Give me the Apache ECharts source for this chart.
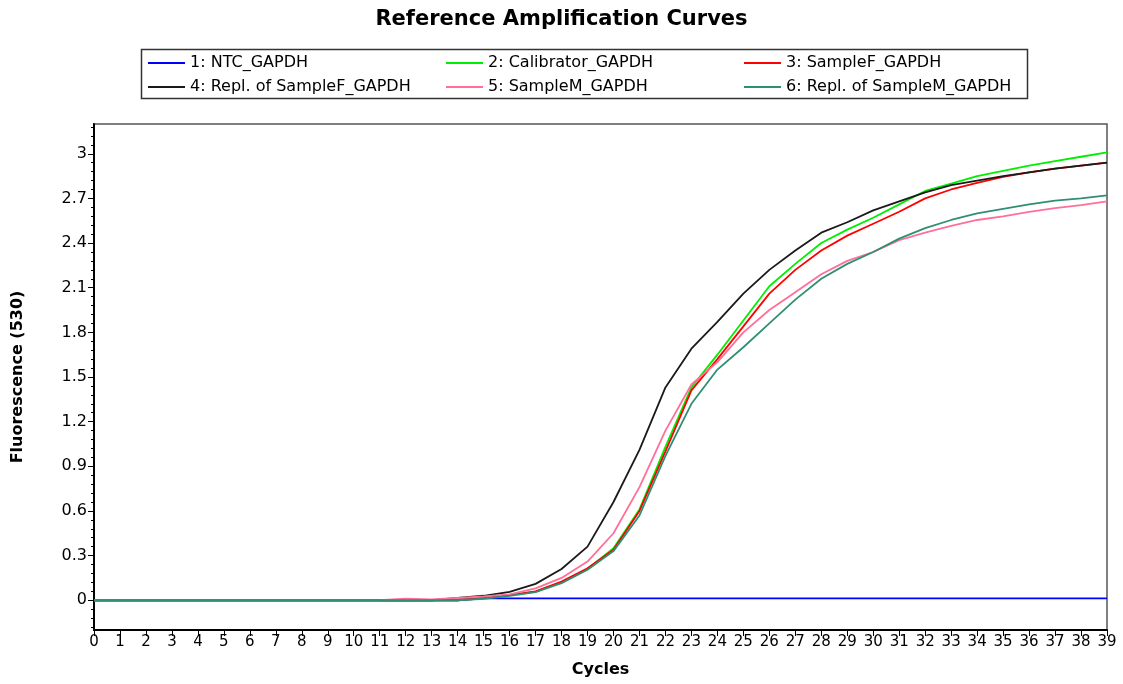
<!DOCTYPE html>
<html>
<head>
<meta charset="utf-8">
<script src="https://cdn.jsdelivr.net/npm/echarts@6/dist/echarts.min.js"></script>
<style>
html,body{margin:0;padding:0;background:#fff;}
#c{width:1123px;height:684px;}
</style>
</head>
<body>
<div id="c"></div>
<script>
// ---- data ----
const cycles = [0,1,2,3,4,5,6,7,8,9,10,11,12,13,14,15,16,17,18,19,20,21,22,23,24,25,26,27,28,29,30,31,32,33,34,35,36,37,38,39];
const seriesNames = ['1: NTC_GAPDH','2: Calibrator_GAPDH','3: SampleF_GAPDH','4: Repl. of SampleF_GAPDH','5: SampleM_GAPDH','6: Repl. of SampleM_GAPDH'];
const ntc        = [0,0,0,0,0,0,0,0,0,0,0,0,0,0,0,0.012,0.012,0.012,0.012,0.012,0.012,0.012,0.012,0.012,0.012,0.012,0.012,0.012,0.012,0.012,0.012,0.012,0.012,0.012,0.012,0.012,0.012,0.012,0.012,0.012];
const calibrator = [0,0,0,0,0,0,0,0,0,0,0,0,0,0,0,0.015,0.034,0.058,0.12,0.21,0.35,0.61,1.03,1.43,1.65,1.88,2.11,2.26,2.40,2.49,2.57,2.66,2.75,2.80,2.85,2.885,2.92,2.95,2.98,3.01];
const sampleF    = [0,0,0,0,0,0,0,0,0,0,0,0,0,0,0,0.02,0.035,0.06,0.125,0.215,0.34,0.60,1.00,1.41,1.62,1.84,2.06,2.22,2.35,2.45,2.53,2.61,2.70,2.76,2.805,2.845,2.875,2.90,2.92,2.94];
const replF      = [0,0,0,0,0,0,0,0,0,0,0,0,0,0,0.015,0.03,0.056,0.11,0.21,0.36,0.66,1.01,1.43,1.69,1.87,2.06,2.22,2.35,2.47,2.54,2.62,2.68,2.74,2.79,2.82,2.85,2.875,2.90,2.92,2.94];
const sampleM    = [0,0,0,0,0,0,0,0,0,0,0,0,0.01,0.005,0.015,0.025,0.04,0.08,0.15,0.26,0.45,0.76,1.14,1.45,1.60,1.80,1.95,2.07,2.19,2.28,2.34,2.42,2.47,2.515,2.555,2.58,2.61,2.635,2.655,2.68];
const replM      = [0,0,0,0,0,0,0,0,0,0,0,0,0,0,0,0.01,0.03,0.055,0.115,0.205,0.33,0.57,0.97,1.32,1.55,1.70,1.86,2.02,2.16,2.26,2.34,2.43,2.50,2.555,2.60,2.63,2.66,2.685,2.70,2.72];
const yTickValues = [0,0.3,0.6,0.9,1.2,1.5,1.8,2.1,2.4,2.7,3];
const yTickLabels = ['0','0.3','0.6','0.9','1.2','1.5','1.8','2.1','2.4','2.7','3'];

// ---- styling ----
const colors = ['#0000ff','#00ee00','#ff0000','#1a1a1a','#ff6f9a','#2f8f74'];
const allData = [ntc, calibrator, sampleF, replF, sampleM, replM];
const FONT = 'DejaVu Sans, Verdana, sans-serif';

const minorTicks = [];
for (let i = -3; i <= 53; i++) { minorTicks.push(Math.round(i * 6) / 100); }

const series = seriesNames.map((name, i) => ({
  name: name,
  type: 'line',
  xAxisIndex: 0,
  yAxisIndex: 0,
  data: cycles.map((c, k) => [c, allData[i][k]]),
  showSymbol: false,
  symbol: 'none',
  smooth: false,
  lineStyle: { color: colors[i], width: 1.8 },
  itemStyle: { color: colors[i] },
  animation: false,
  z: 2 + i
}));

const legendLeft = [148, 446, 744];
const legendTop = [55, 79];
const legends = seriesNames.map((name, i) => ({
  data: [name],
  left: legendLeft[i % 3],
  top: legendTop[Math.floor(i / 3)],
  icon: 'rect',
  itemWidth: 37,
  itemHeight: 2,
  itemGap: 0,
  padding: 0,
  selectedMode: false,
  textStyle: { fontFamily: FONT, fontSize: 16, color: '#000', padding: [0, 0, 0, 0] }
}));

const chart = echarts.init(document.getElementById('c'), null, { renderer: 'canvas' });
chart.setOption({
  backgroundColor: '#fff',
  animation: false,
  title: {
    text: 'Reference Amplification Curves',
    left: 'center',
    top: 4,
    textStyle: { fontFamily: FONT, fontSize: 21, fontWeight: 'bold', color: '#000' }
  },
  legend: legends,
  graphic: [{
    type: 'rect',
    shape: { x: 141.5, y: 49.5, width: 886, height: 49 },
    style: { fill: 'none', stroke: '#333', lineWidth: 1.5 },
    silent: true
  }],
  grid: {
    left: 94, right: 16, top: 124, bottom: 54,
    show: true, borderColor: '#555', borderWidth: 1.5,
    containLabel: false, outerBoundsMode: 'none'
  },
  xAxis: [{
    type: 'value', min: 0, max: 39, interval: 1,
    name: 'Cycles', nameLocation: 'middle', nameGap: 32,
    nameTextStyle: { fontFamily: FONT, fontSize: 16, fontWeight: 'bold', color: '#000' },
    axisLine: { show: true, onZero: false, lineStyle: { color: '#000', width: 2 } },
    axisTick: { show: true, inside: false, length: 6, lineStyle: { color: '#000', width: 1 } },
    axisLabel: { fontFamily: FONT, fontSize: 15, color: '#000', margin: 5 },
    splitLine: { show: false }
  }],
  yAxis: [{
    type: 'value', min: -0.2, max: 3.2,
    name: 'Fluorescence (530)', nameLocation: 'middle', nameGap: 68, nameRotate: 90,
    nameTextStyle: { fontFamily: FONT, fontSize: 16, fontWeight: 'bold', color: '#000' },
    axisLine: { show: true, onZero: false, lineStyle: { color: '#000', width: 2 } },
    axisTick: { show: true, inside: false, length: 6, customValues: yTickValues, lineStyle: { color: '#000', width: 1 } },
    axisLabel: {
      fontFamily: FONT, fontSize: 16, color: '#000', margin: 7,
      customValues: yTickValues,
      formatter: (v) => { const k = yTickValues.findIndex(t => Math.abs(t - v) < 1e-6); return k >= 0 ? yTickLabels[k] : ''; }
    },
    splitLine: { show: false }
  }, {
    type: 'value', min: -0.2, max: 3.2, position: 'left',
    axisLine: { show: false },
    axisTick: { show: true, inside: false, length: 3, customValues: minorTicks, lineStyle: { color: '#000', width: 1 } },
    axisLabel: { show: false },
    splitLine: { show: false }
  }],
  series: series
});
</script>
</body>
</html>
